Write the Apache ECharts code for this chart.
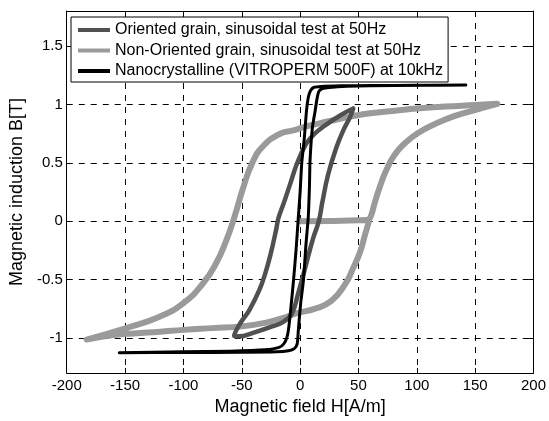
<!DOCTYPE html>
<html>
<head>
<meta charset="utf-8">
<script src="https://cdn.jsdelivr.net/npm/echarts@6/dist/echarts.min.js"></script>
<style>
  html, body { margin: 0; padding: 0; background: #fff; }
  #chart { width: 549px; height: 421px; }
</style>
</head>
<body>
<div id="chart"></div>
<script>
// [H (A/m), B (T)]
const seriesNames = [
  'Oriented grain, sinusoidal test at 50Hz',
  'Non-Oriented grain, sinusoidal test at 50Hz',
  'Nanocrystalline (VITROPERM 500F) at 10kHz'
];

const orientedGrain = [
  [45.5, 0.965], [35, 0.91], [22.7, 0.83], [12, 0.745], [5, 0.66], [-2.8, 0.49],
  [-8.5, 0.32], [-14, 0.156], [-18.5, 0.03], [-20.5, -0.07], [-25.5, -0.29],
  [-30, -0.45], [-35, -0.59], [-43.5, -0.76], [-52, -0.885], [-56.5, -0.98],
  [-52, -0.985], [-41, -0.957], [-24, -0.9], [-14, -0.86], [-7, -0.79],
  [-2, -0.63], [4.3, -0.4], [11, -0.15], [16, 0.0], [19, 0.16], [24, 0.4],
  [31, 0.63], [38, 0.8], [42.5, 0.885], [45.5, 0.965]
];

const nonOrientedGrain = [
  [0, 0], [57, 0.01],
  [60, 0.03], [64, 0.16], [68.5, 0.3], [74, 0.44], [81, 0.57], [90, 0.67],
  [101, 0.755], [115, 0.83], [132, 0.9], [149, 0.95], [169, 1.005],
  [150, 0.995], [124, 0.982], [100, 0.965], [81, 0.946], [60, 0.925], [45, 0.9],
  [24.4, 0.856], [11, 0.825], [4.5, 0.81], [-5, 0.78], [-18, 0.745], [-32, 0.64],
  [-41, 0.5], [-49, 0.28], [-56.5, 0.03], [-63.5, -0.17], [-72, -0.36],
  [-83.5, -0.535], [-100, -0.7], [-120, -0.815], [-149, -0.915], [-183, -1.013],
  [-160, -0.975], [-143, -0.96], [-120, -0.945], [-100, -0.93], [-75, -0.915],
  [-50, -0.9], [-30, -0.87], [-15, -0.83], [-4, -0.79], [13, -0.748], [27, -0.68],
  [38.5, -0.54], [45.5, -0.4], [51.5, -0.26], [55.5, -0.12], [59, 0]
];

const nanocrystalline = [
  [142, 1.166], [100, 1.164], [60, 1.162], [35, 1.159], [18, 1.154], [12, 1.147],
  [9, 1.12], [7, 1.06], [5.5, 0.95], [3.5, 0.7], [1.4, 0.5], [0, 0.25],
  [-1.5, 0.04], [-3.5, -0.25], [-5.7, -0.51], [-8, -0.75], [-10, -0.93],
  [-11.5, -1.0], [-14, -1.05], [-18, -1.08], [-30, -1.1], [-60, -1.112],
  [-100, -1.118], [-155, -1.125],
  [-100, -1.124], [-50, -1.122], [-20, -1.118], [-10, -1.108], [-5, -1.09],
  [-2.5, -1.05], [-1.5, -0.93], [0.5, -0.7], [2.8, -0.51], [5, -0.2], [7, 0.04],
  [8, 0.3], [8.5, 0.52], [10.5, 0.8], [12.8, 0.94], [14.5, 1.05], [16, 1.11],
  [19, 1.135], [25, 1.146], [40, 1.155], [80, 1.162], [142, 1.166]
];

const xTicks = [-200, -150, -100, -50, 0, 50, 100, 150, 200];
const yTicks = [-1, -0.5, 0, 0.5, 1, 1.5];

const font = 'Liberation Sans, Arial, sans-serif';
const chart = echarts.init(document.getElementById('chart'));

const gridDash = { type: [6, 6], color: '#000', width: 1 };
const boxAxis = { show: true, onZero: false, lineStyle: { color: '#000', width: 1 } };

const option = {
  animation: false,
  backgroundColor: '#fff',
  grid: { left: 65, right: 14, top: 11, bottom: 41 },
  legend: {
    orient: 'vertical',
    left: 71,
    top: 17,
    padding: [5, 5, 3, 7],
    itemGap: 4.5,
    itemWidth: 32,
    itemHeight: 4,
    icon: 'rect',
    backgroundColor: '#fff',
    borderColor: '#000',
    borderWidth: 1,
    borderRadius: 0,
    textStyle: { color: '#000', fontSize: 16, fontFamily: font },
    data: seriesNames
  },
  xAxis: [
    {
      type: 'value', min: xTicks[0], max: xTicks[xTicks.length - 1], interval: 50,
      name: 'Magnetic field H[A/m]', nameLocation: 'middle', nameGap: 24,
      nameTextStyle: { color: '#000', fontSize: 18, fontFamily: font },
      axisLine: boxAxis,
      axisTick: { inside: true, length: 5, lineStyle: { color: '#000' } },
      axisLabel: { margin: 5, color: '#000', fontSize: 15, fontFamily: font },
      splitLine: { show: true, lineStyle: gridDash }
    },
    {
      type: 'value', position: 'top', min: xTicks[0], max: xTicks[xTicks.length - 1], interval: 50,
      axisLine: boxAxis,
      axisTick: { inside: true, length: 5, lineStyle: { color: '#000' } },
      axisLabel: { show: false },
      splitLine: { show: false }
    }
  ],
  yAxis: [
    {
      type: 'value', min: -1.3, max: 1.8,
      name: 'Magnetic induction B[T]', nameLocation: 'middle', nameGap: 32,
      nameTextStyle: { color: '#000', fontSize: 18, fontFamily: font },
      axisLine: boxAxis,
      axisTick: { inside: true, length: 5, customValues: yTicks, lineStyle: { color: '#000' } },
      axisLabel: { margin: 4, customValues: yTicks, color: '#000', fontSize: 15, fontFamily: font },
      splitLine: { show: true, lineStyle: gridDash }
    },
    {
      type: 'value', position: 'right', min: -1.3, max: 1.8,
      axisLine: boxAxis,
      axisTick: { inside: true, length: 5, customValues: yTicks, lineStyle: { color: '#000' } },
      axisLabel: { show: false },
      splitLine: { show: false }
    }
  ],
  series: [
    {
      name: seriesNames[0], type: 'line', data: orientedGrain,
      symbol: 'none', smooth: 0.45, color: '#505050',
      lineStyle: { width: 4.5, color: '#505050', cap: 'round', join: 'round' },
      z: 3
    },
    {
      name: seriesNames[1], type: 'line', data: nonOrientedGrain,
      symbol: 'none', smooth: 0.5, color: '#9a9a9a',
      lineStyle: { width: 6, color: '#9a9a9a', cap: 'round', join: 'round' },
      z: 2
    },
    {
      name: seriesNames[2], type: 'line', data: nanocrystalline,
      symbol: 'none', smooth: 0.2, color: '#000',
      lineStyle: { width: 3, color: '#000', cap: 'round', join: 'round' },
      z: 4
    }
  ]
};

chart.setOption(option);
</script>
</body>
</html>
